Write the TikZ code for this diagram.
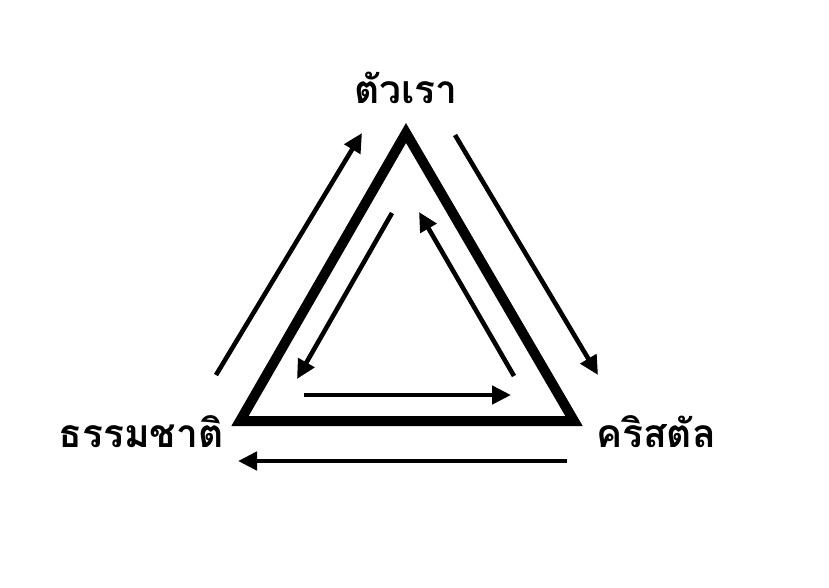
\documentclass[tikz,border=0pt]{standalone}
\usepackage{fontspec}
\newfontfamily\thaifont[Script=Thai]{Loma}
\usetikzlibrary{arrows.meta}

\tikzset{
  lbl/.style = {font=\thaifont\bfseries\fontsize{39}{46}\selectfont, inner sep=0pt},
  flow/.style = {line width=4.6pt, -{Triangle[length=19pt, width=18pt]}},
  tri/.style = {line width=10pt, line join=miter}
}

\begin{document}
\begin{tikzpicture}[x=1pt, y=-1pt]
\useasboundingbox (0,0) rectangle (829,587);
%\draw[gray!20] (0,0) grid[step=50] (829,587);
% triangle
\coordinate (top) at (406,133);
\coordinate (bl) at (240,421);
\coordinate (br) at (574,421);
\draw[tri] (top) -- (bl) -- (br) -- cycle;
% labels
\node[lbl] (us) at (406,88) {ตัวเรา};
\node[lbl] (nat) at (141,432) {ธรรมชาติ};
\node[lbl] (cry) at (656,432) {คริสตัล};
% outer arrows
\coordinate (o1) at (216,375);
\coordinate (o2) at (362,133);
\coordinate (o3) at (455,135);
\coordinate (o4) at (598,375);
\coordinate (o5) at (567,461);
\coordinate (o6) at (238,461);
\draw[flow] (o1) -- (o2);
\draw[flow] (o3) -- (o4);
\draw[flow] (o5) -- (o6);
% inner arrows
\coordinate (i1) at (392,213);
\coordinate (i2) at (297,379);
\coordinate (i3) at (514,376);
\coordinate (i4) at (419,212);
\coordinate (i5) at (304,395);
\coordinate (i6) at (511,395);
\draw[flow] (i1) -- (i2);
\draw[flow] (i3) -- (i4);
\draw[flow] (i5) -- (i6);
\end{tikzpicture}
\end{document}
